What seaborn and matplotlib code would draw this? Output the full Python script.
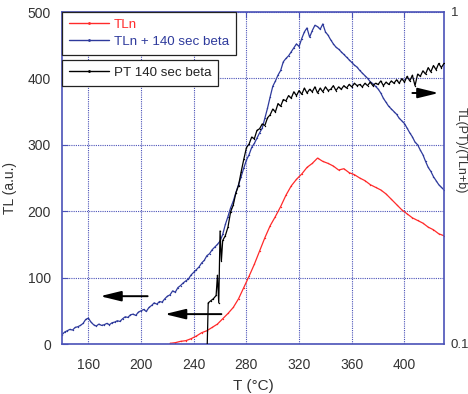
import numpy as np
import pandas as pd
import matplotlib
matplotlib.use('Agg')
import matplotlib.pyplot as plt
import seaborn as sns
from matplotlib.lines import Line2D

# --- data ---
blue_T = [140, 142, 144, 146, 148, 150, 152, 154, 156, 158, 160, 162, 164, 166, 168, 170,
          172, 174, 176, 178, 180, 182, 184, 186, 188, 190, 192, 194, 196, 198, 200, 202,
          204, 206, 208, 210, 212, 214, 216, 218, 220, 222, 224, 226, 228, 230, 232, 234,
          236, 238, 240, 242, 244, 246, 248, 250, 252, 254, 256, 258, 260, 262, 264, 266,
          268, 270, 272, 274, 276, 278, 280, 282, 284, 286, 288, 290, 292, 294, 296, 298,
          300, 302, 304, 306, 308, 310, 312, 314, 316, 318, 320, 322, 324, 326, 328, 330,
          332, 334, 336, 338, 340, 342, 344, 346, 348, 350, 352, 354, 356, 358, 360, 362,
          364, 366, 368, 370, 372, 374, 376, 378, 380, 382, 384, 386, 388, 390, 392, 394,
          396, 398, 400, 402, 404, 406, 408, 410, 412, 414, 416, 418, 420, 422, 424, 426,
          428, 430]
blue_TL = [14, 18, 20, 22, 21, 25, 26, 28, 31, 37, 39, 33, 29, 27, 30, 28,
           29, 31, 29, 32, 33, 35, 34, 38, 41, 40, 44, 45, 43, 48, 50, 52,
           49, 55, 58, 62, 60, 64, 63, 68, 72, 74, 80, 78, 85, 88, 92, 95,
           98, 104, 108, 112, 116, 122, 126, 133, 136, 142, 146, 150, 155, 165, 180, 192,
           205, 215, 228, 240, 252, 265, 277, 285, 296, 302, 310, 318, 325, 340, 355, 372,
           388, 396, 405, 412, 425, 430, 434, 440, 446, 452, 448, 460, 470, 476, 462, 472,
           480, 478, 474, 482, 470, 465, 458, 452, 447, 444, 440, 436, 432, 428, 424, 420,
           417, 412, 408, 404, 400, 395, 392, 388, 384, 378, 370, 364, 358, 354, 350, 346,
           340, 336, 332, 325, 318, 312, 304, 300, 292, 285, 275, 266, 260, 252, 246, 240,
           236, 232]

red_T = [222, 226, 230, 234, 238, 242, 246, 250, 254, 258, 262, 266, 270, 274, 278, 282,
         286, 290, 294, 298, 302, 306, 310, 314, 318, 322, 326, 330, 334, 338, 342, 346,
         350, 354, 358, 362, 366, 370, 374, 378, 382, 386, 390, 394, 398, 402, 406, 410,
         414, 418, 422, 426, 430]
red_TL = [1, 2, 4, 5, 8, 12, 17, 20, 25, 30, 38, 46, 55, 68, 85, 102,
          120, 140, 160, 178, 192, 207, 224, 238, 248, 256, 266, 272, 280, 275, 272, 268,
          262, 264, 258, 255, 250, 246, 240, 236, 232, 226, 218, 210, 202, 196, 190, 186,
          182, 176, 172, 166, 163]

black_T = [248, 250, 251, 253, 255, 257, 258, 259, 260, 261, 262, 264, 266, 268, 270, 272,
           274, 276, 278, 280, 282, 284, 286, 288, 290, 292, 294, 296, 298, 300, 302, 304,
           306, 308, 310, 312, 314, 316, 318, 320, 322, 324, 326, 328, 330, 332, 334, 336,
           338, 340, 342, 344, 346, 348, 350, 352, 354, 356, 358, 360, 362, 364, 366, 368,
           370, 372, 374, 376, 378, 380, 382, 384, 386, 388, 390, 392, 394, 396, 398, 400,
           402, 404, 406, 408, 410, 412, 414, 416, 418, 420, 422, 424, 426, 428, 430]
black_ratio = [0.09, 0.09, 0.133, 0.135, 0.137, 0.14, 0.161, 0.133, 0.219, 0.178, 0.205, 0.212,
               0.225, 0.25, 0.262, 0.285, 0.30, 0.33, 0.36, 0.39, 0.40, 0.42, 0.415, 0.44,
               0.445, 0.46, 0.455, 0.48, 0.49, 0.51, 0.50, 0.53, 0.52, 0.545, 0.54, 0.56,
               0.55, 0.575, 0.56, 0.58, 0.565, 0.59, 0.57, 0.585, 0.575, 0.595, 0.57, 0.59,
               0.575, 0.595, 0.58, 0.585, 0.60, 0.58, 0.595, 0.585, 0.60, 0.59, 0.605, 0.595,
               0.61, 0.60, 0.605, 0.595, 0.61, 0.60, 0.615, 0.60, 0.61, 0.605, 0.62, 0.60,
               0.615, 0.605, 0.62, 0.61, 0.625, 0.61, 0.63, 0.615, 0.64, 0.62, 0.645, 0.60,
               0.65, 0.64, 0.665, 0.65, 0.68, 0.66, 0.69, 0.67, 0.70, 0.68, 0.70]

x_ticks = [160, 200, 240, 280, 320, 360, 400]
y_ticks = [0, 100, 200, 300, 400, 500]

RED = '#ff2a2a'
BLUE = '#2e3a9c'
AXCOL = '#4a52b8'
TXT = '#333333'

sns.set_style('white')
plt.rcParams['font.family'] = ['Liberation Sans', 'DejaVu Sans']

fig = plt.figure(figsize=(4.68, 3.94), dpi=100)
ax = fig.add_axes([62 / 468, 1 - 344 / 394, 382 / 468, 332 / 394])

sns.lineplot(x=blue_T, y=blue_TL, ax=ax, color=BLUE, lw=0.9, marker='.', ms=2,
             mew=0, label='TLn + 140 sec beta')
sns.lineplot(x=red_T, y=red_TL, ax=ax, color=RED, lw=0.9, marker='.', ms=2,
             mew=0, label='TLn')

ax.set_xlim(140, 430)
ax.set_ylim(0, 500)
ax.set_xticks(x_ticks)
ax.set_yticks(y_ticks)
ax.grid(True, color=AXCOL, ls=(0, (1, 1)), lw=0.8)
for s in ax.spines.values():
    s.set_color(AXCOL)
    s.set_linewidth(1.2)
ax.tick_params(direction='in', length=4, color=AXCOL, labelsize=10, labelcolor=TXT,
               top=True, right=True)
ax.tick_params(axis='x', pad=10)
ax.tick_params(axis='y', pad=8)
ax.set_xlabel('T (°C)', fontsize=11, color=TXT, labelpad=5)
ax.set_ylabel('TL (a.u.)', fontsize=10, color=TXT)
ax.yaxis.set_label_coords(-0.118, 0.47)
ax.get_legend().remove()

# right log axis for the PT ratio
ax2 = ax.twinx()
sns.lineplot(x=black_T, y=black_ratio, ax=ax2, color='black', lw=0.9, marker='.', ms=2,
             mew=0, label='PT 140 sec beta')
ax2.set_yscale('log')
ax2.set_ylim(0.1, 1)
ax2.set_yticks([0.1, 1])
ax2.set_yticklabels(['0.1', '1'])
ax2.minorticks_off()
ax2.tick_params(direction='in', length=0, labelsize=9.5, labelcolor=TXT, pad=5)
for s in ax2.spines.values():
    s.set_visible(False)
ax2.get_legend().remove()
ax2.grid(False)
fig.text(0.972, 0.62, 'TL(PT)/(TLn+b)', rotation=270, ha='left', va='center',
         fontsize=9, color=TXT)

# arrows
arr = dict(arrowstyle='-|>,head_length=0.9,head_width=0.22', color='black', lw=1.4,
           mutation_scale=14, shrinkA=0, shrinkB=0)
ax2.annotate('', xy=(169, 72), xytext=(205, 72), xycoords=ax.transData,
             textcoords=ax.transData, arrowprops=arr)
ax2.annotate('', xy=(218, 45), xytext=(261, 45), xycoords=ax.transData,
             textcoords=ax.transData, arrowprops=arr)
ax2.annotate('', xy=(426, 378), xytext=(406, 378), xycoords=ax.transData,
             textcoords=ax.transData, arrowprops=arr)

# legends (two stacked boxes)
h1 = [Line2D([], [], color=RED, lw=1, marker='.', ms=2),
      Line2D([], [], color=BLUE, lw=1, marker='.', ms=2)]
leg1 = ax2.legend(h1, ['TLn', 'TLn + 140 sec beta'], loc='upper left',
                  bbox_to_anchor=(0, 1), borderaxespad=0, fancybox=False,
                  framealpha=1, edgecolor='#222222', fontsize=9.6, labelcolor=[RED, BLUE],
                  handlelength=3.0, handletextpad=0.4, labelspacing=0.35, borderpad=0.5)
leg1.get_frame().set_linewidth(0.9)
ax2.add_artist(leg1)
h2 = [Line2D([], [], color='black', lw=1, marker='.', ms=2)]
leg2 = ax2.legend(h2, ['PT 140 sec beta'], loc='upper left',
                  bbox_to_anchor=(0, 1 - 48 / 332), borderaxespad=0, fancybox=False,
                  framealpha=1, edgecolor='#222222', fontsize=9.6, labelcolor='#222222',
                  handlelength=3.0, handletextpad=0.4, borderpad=0.5)
leg2.get_frame().set_linewidth(0.9)

fig.savefig('out.png', dpi=100)
